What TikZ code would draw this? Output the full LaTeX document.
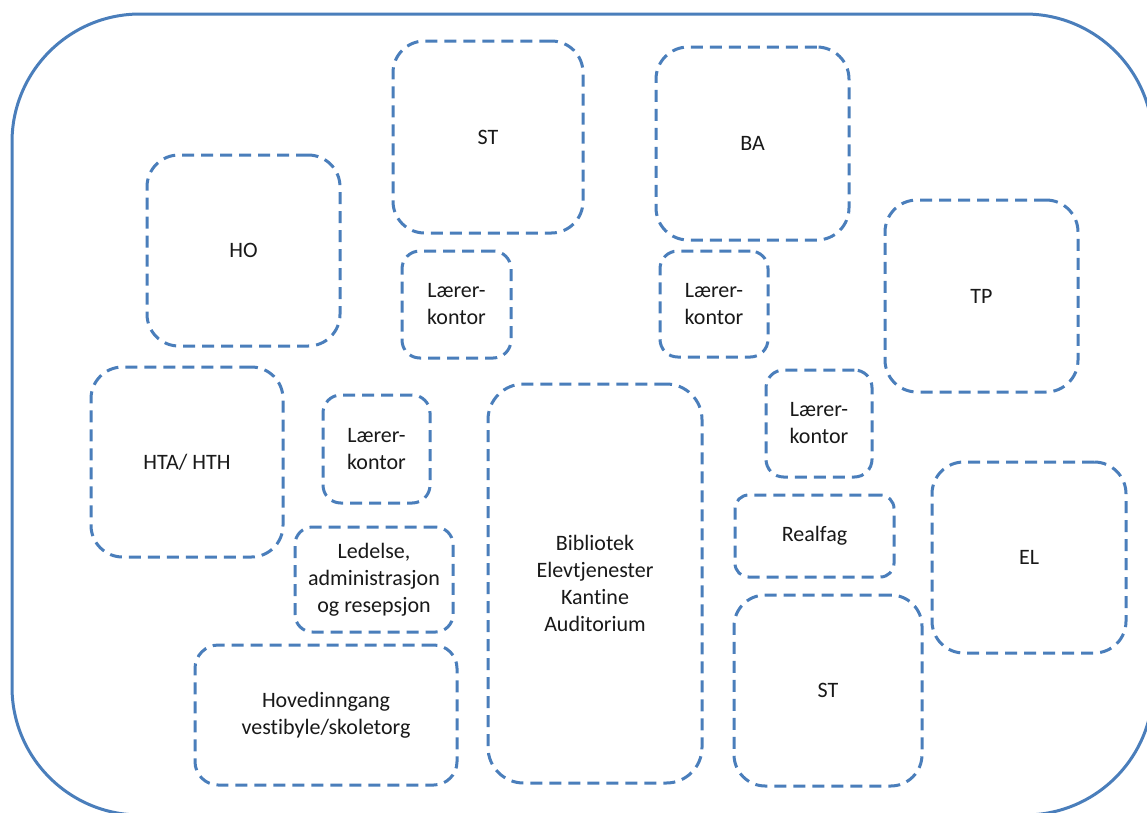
\documentclass[tikz,border=0pt]{standalone}
\usepackage{fontspec}
\setmainfont{Carlito}[Ligatures=NoCommon]
\definecolor{planblue}{RGB}{74,126,187}
\tikzset{
  room/.style={draw=planblue, line width=3pt, dash pattern=on 12pt off 7pt,
    align=center, inner sep=0pt, font=\fontsize{22}{27}\selectfont, text=black!90},
  outerwall/.style={draw=planblue, line width=3pt, rounded corners=128pt}
}
% room box from its corner coordinates (x1,y1)-(x2,y2), corner radius = shorter side / 6
\newcommand{\roombox}[6]{%
  \pgfmathsetmacro{\roomW}{#4-#2}%
  \pgfmathsetmacro{\roomH}{#5-#3}%
  \pgfmathsetmacro{\roomR}{min(\roomW,\roomH)/6}%
  \node[room, minimum width=\roomW pt, minimum height=\roomH pt,
        rounded corners=\roomR pt] (#1) at ({(#2+#4)/2},{(#3+#5)/2}) {#6};}
\begin{document}
\begin{tikzpicture}[x=1pt, y=-1pt]
  \useasboundingbox (0,0) rectangle (1147,812);
  \fill[white] (0,0) rectangle (1147,812);
  \clip (0,0) rectangle (1147,812);
  % building outline
  \draw[outerwall] (12,14) rectangle (1153,815);
  % rooms
  \roombox{stn}{393}{41}{583}{233}{ST}
  \roombox{ba}{656}{47}{849}{240}{BA}
  \roombox{ho}{147}{155}{340}{346}{HO}
  \roombox{tp}{885}{200}{1078}{392}{TP}
  \roombox{lkA}{402}{251}{511}{358}{Lærer-\\kontor}
  \roombox{lkB}{660}{251}{768}{357}{Lærer-\\kontor}
  \roombox{lkC}{766}{370}{872}{477}{Lærer-\\kontor}
  \roombox{lkD}{323}{395}{430}{503}{Lærer-\\kontor}
  \roombox{hta}{91}{367}{283}{557}{HTA/ HTH}
  \roombox{bib}{488}{384}{702}{783}{Bibliotek\\Elevtjenester\\Kantine\\Auditorium}
  \roombox{led}{295}{527}{453}{632}{Ledelse,\\administrasjon\\og resepsjon}
  \roombox{real}{735}{495}{894}{577}{Realfag}
  \roombox{el}{932}{462}{1126}{653}{EL}
  \roombox{sts}{734}{595}{922}{786}{ST}
  \roombox{hov}{195}{645}{457}{785}{Hovedinngang\\vestibyle/skoletorg}
\end{tikzpicture}
\end{document}
